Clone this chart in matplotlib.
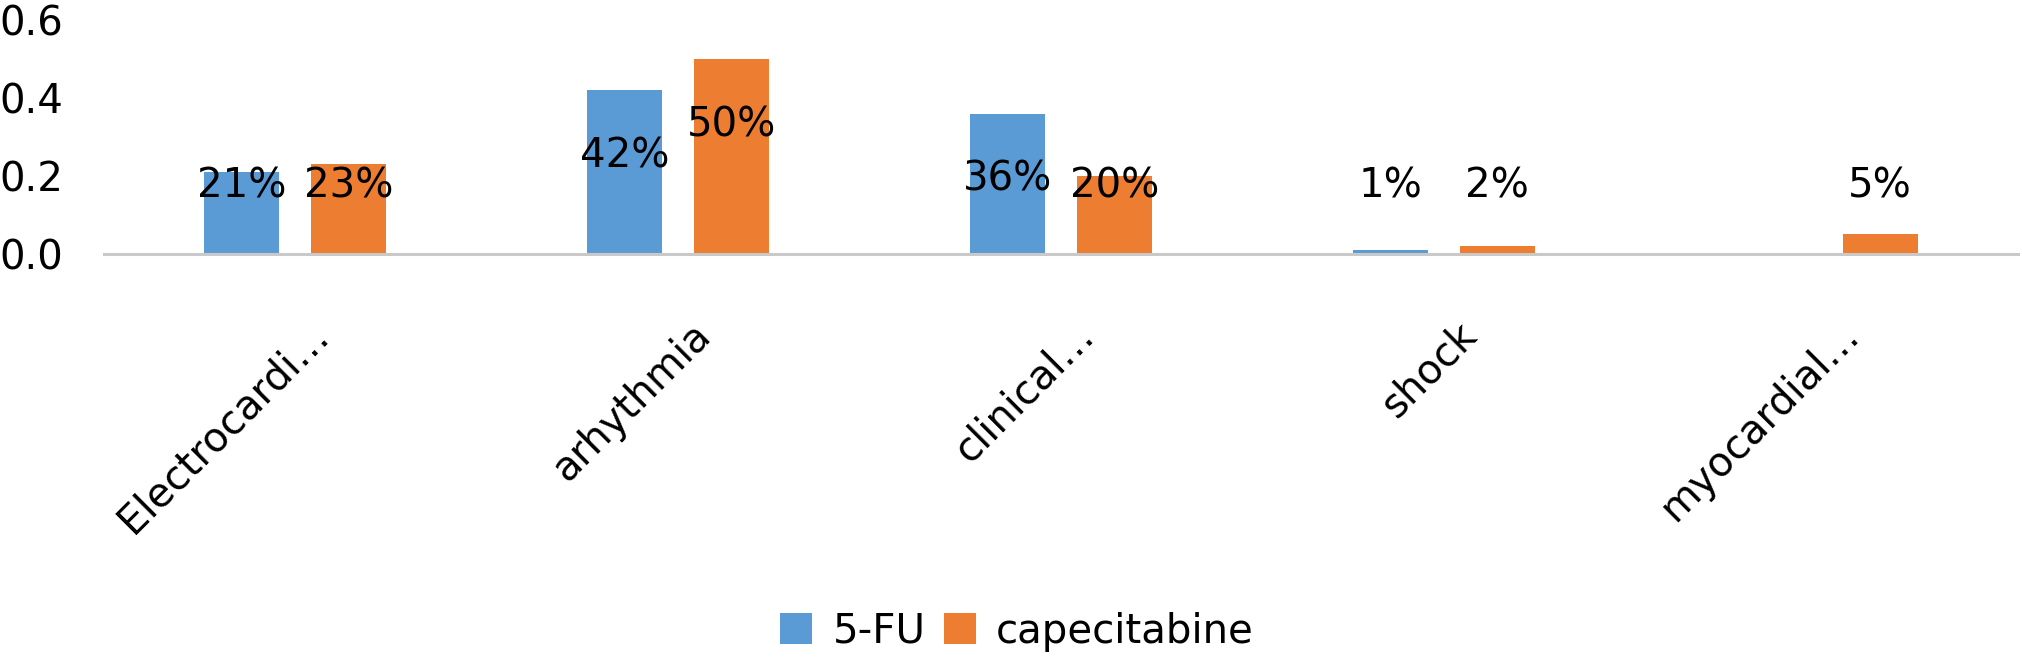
import numpy as np
import matplotlib
matplotlib.use("Agg")
import matplotlib.pyplot as plt
import matplotlib.transforms as mtransforms
from matplotlib.patches import Patch

# dados
categorias = ["Electrocardi…", "arhythmia", "clinical…", "shock", "myocardial…"]
series = ["5-FU", "capecitabine"]
valores_5fu = [0.21, 0.42, 0.36, 0.01, 0.0]
valores_cape = [0.23, 0.50, 0.20, 0.02, 0.05]
yticks = [0.0, 0.2, 0.4, 0.6]

AZUL = "#5B9BD5"
LARANJA = "#ED7D31"
FONTE = 29

plt.rcParams["font.family"] = ["DejaVu Sans"]

fig = plt.figure(figsize=(20.22, 6.6), dpi=100)
ax = fig.add_axes([0.0512, 0.6152, 0.9468, 0.3545])

x = np.arange(len(categorias))
largura = 0.196
desloc = 0.14

for vals, cor, d in [(valores_5fu, AZUL, -desloc), (valores_cape, LARANJA, desloc)]:
    ax.bar(x + d, vals, width=largura, color=cor, zorder=2)
    for xi, v in zip(x, vals):
        if v <= 0:
            continue
        y_rot = max(v - 0.17, 0.174)
        ax.text(xi + d, y_rot, f"{v:.0%}", ha="center", va="center",
                fontsize=FONTE, color="black", zorder=3)

ax.set_xlim(-0.5, len(categorias) - 0.5)
ax.set_ylim(0, 0.6)
ax.set_yticks(yticks)
ax.set_yticklabels([f"{t:.1f}" for t in yticks], fontsize=FONTE)
ax.tick_params(axis="y", length=0, pad=29)

for lado in ["top", "right", "left"]:
    ax.spines[lado].set_visible(False)
ax.spines["bottom"].set_color("#C9C9C9")
ax.spines["bottom"].set_linewidth(2.2)

ax.set_xticks(x)
ax.set_xticklabels(categorias, fontsize=FONTE, rotation=45, ha="right",
                   va="center", rotation_mode="anchor")
ax.tick_params(axis="x", length=0, pad=0)
offset = mtransforms.ScaledTranslation(19.5 / 72, -54 / 72, fig.dpi_scale_trans)
for lbl in ax.get_xticklabels():
    lbl.set_transform(lbl.get_transform() + offset)

handles = [Patch(facecolor=AZUL), Patch(facecolor=LARANJA)]
fig.legend(handles, series, loc="center", bbox_to_anchor=(0.503, 0.043),
           ncol=2, frameon=False, fontsize=FONTE, handlelength=0.8,
           handleheight=0.8, handletextpad=0.5, columnspacing=0.45,
           borderaxespad=0, borderpad=0)

fig.savefig("out.png", dpi=100, facecolor="white")
